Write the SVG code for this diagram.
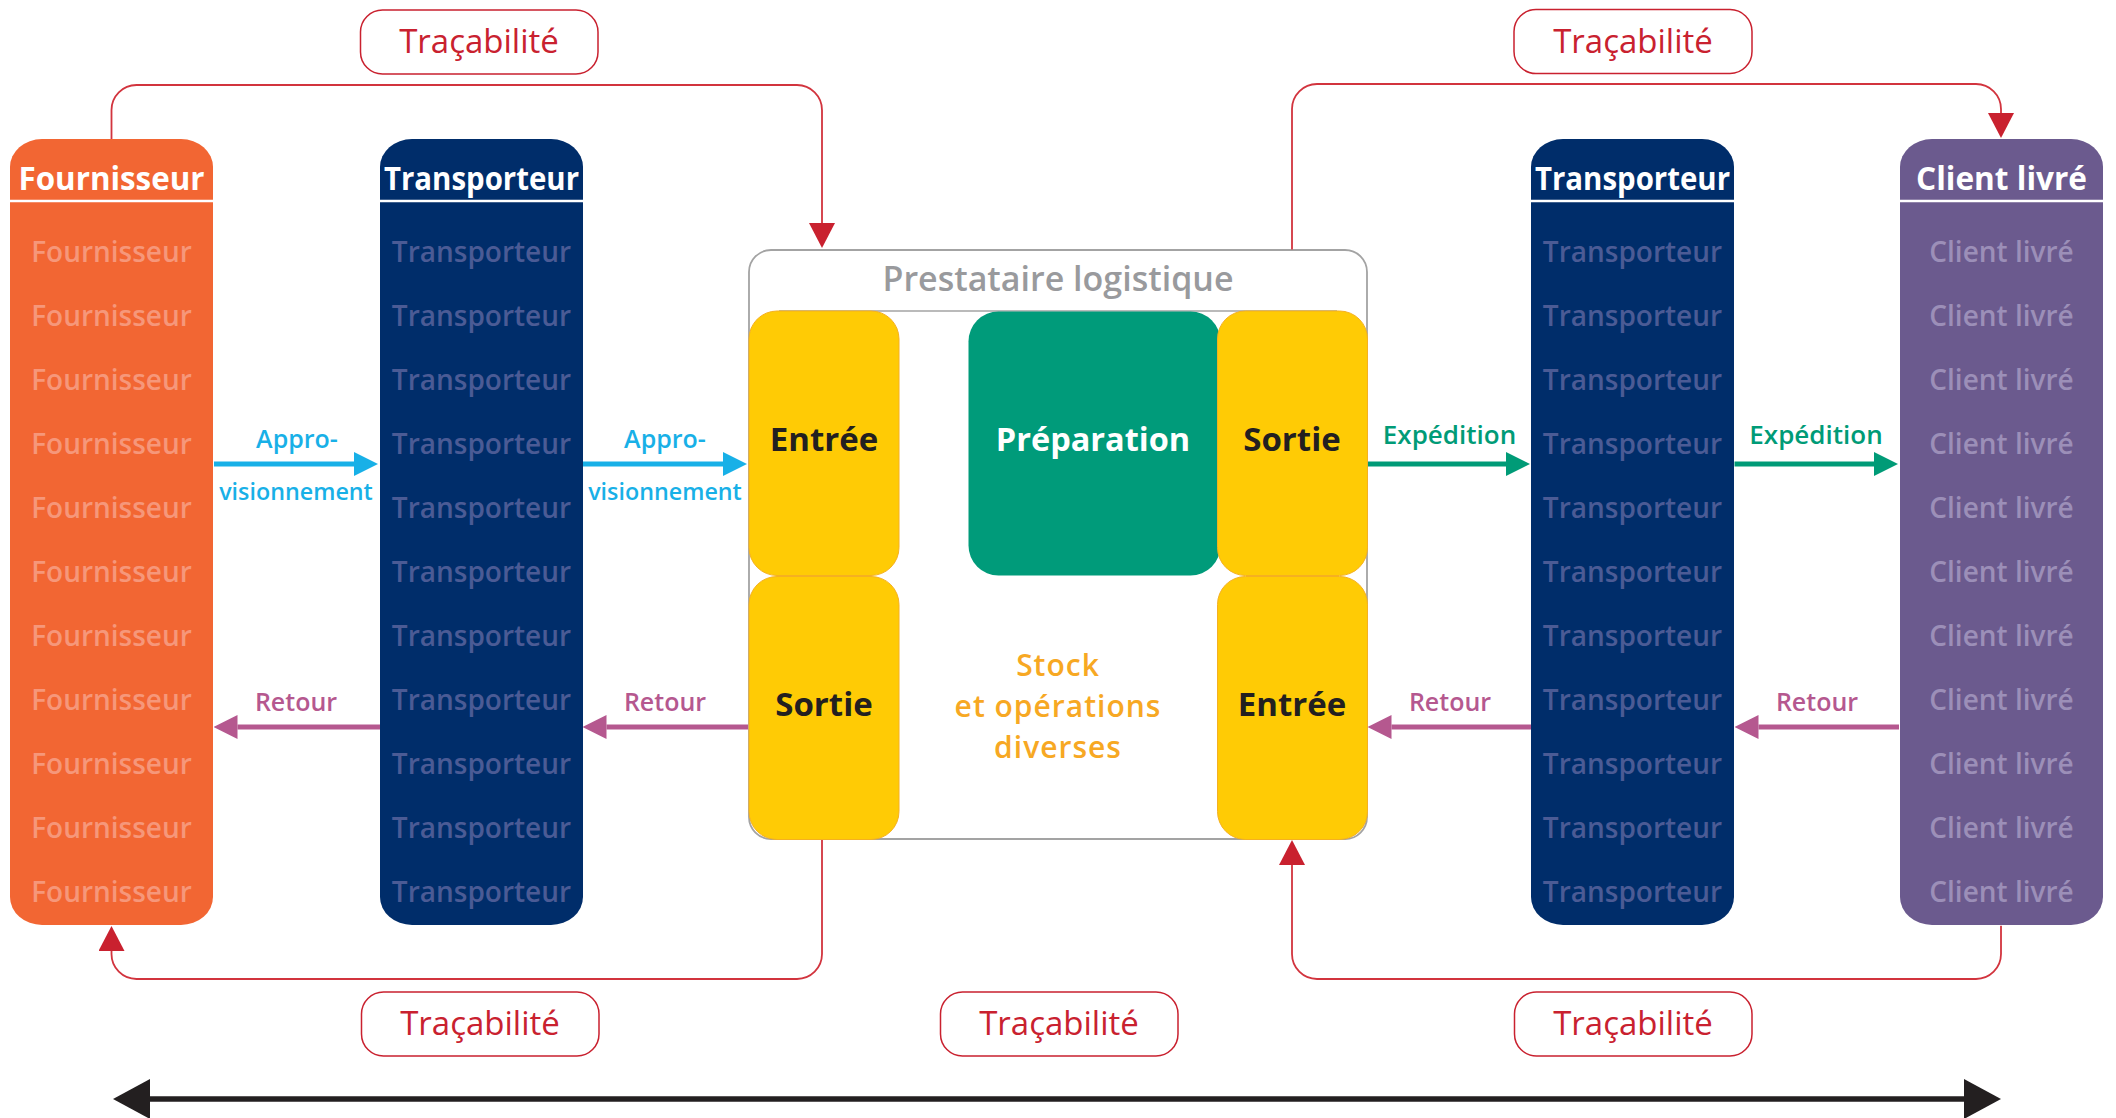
<svg xmlns="http://www.w3.org/2000/svg" width="2116" height="1118" viewBox="0 0 2116 1118">
<defs>
<style>
text{font-family:"Open Sans","Noto Sans","Liberation Sans",sans-serif;text-anchor:middle}
.hd{font-size:33px;font-weight:700;fill:#fff}
.sub{font-size:28px;font-weight:600}
.fsub{fill:#F6977A}
.tsub{fill:#4B5B95}
.csub{fill:#9C8FB8}
.sep{stroke:#fff;stroke-width:2.5}
.trb{fill:#fff;stroke:#C9212F;stroke-width:1.5}
.trt{font-size:33px;font-weight:400;fill:#C9212F}
.yel{fill:#FFCB05;stroke:#F5B021;stroke-width:1}
.blk{font-size:33px;font-weight:700;fill:#231F20}
.lbl{font-size:25px;font-weight:600}
.stk{font-size:30px;font-weight:600;fill:#F7A823;letter-spacing:1px}
.red{fill:none;stroke:#D2343E;stroke-width:1.8}
</style>
<marker id="mCyan" markerUnits="userSpaceOnUse" markerWidth="24" markerHeight="24" refX="0" refY="12" orient="auto"><path d="M0,0L24,12L0,24z" fill="#18B0E7"/></marker>
<marker id="mGreen" markerUnits="userSpaceOnUse" markerWidth="24" markerHeight="24" refX="0" refY="12" orient="auto"><path d="M0,0L24,12L0,24z" fill="#009B77"/></marker>
<marker id="mPink" markerUnits="userSpaceOnUse" markerWidth="24" markerHeight="24" refX="0" refY="12" orient="auto"><path d="M0,0L24,12L0,24z" fill="#B5588F"/></marker>
<marker id="mRed" markerUnits="userSpaceOnUse" markerWidth="25" markerHeight="26" refX="0" refY="13" orient="auto"><path d="M0,0L25,13L0,26z" fill="#C9212F"/></marker>
<marker id="mBlack" markerUnits="userSpaceOnUse" markerWidth="37" markerHeight="40" refX="0" refY="20" orient="auto-start-reverse"><path d="M0,0L37,20L0,40z" fill="#231F20"/></marker>
</defs>
<rect width="2116" height="1118" fill="#fff"/>

<g id="fournisseur">
<rect x="10" y="139" width="203" height="786" rx="32" ry="28" fill="#F26633"/>
<line class="sep" x1="10" y1="201" x2="213" y2="201"/>
<text class="hd" x="111.5" y="190" textLength="186" lengthAdjust="spacingAndGlyphs">Fournisseur</text>
<g class="sub fsub">
<text x="111.5" y="262">Fournisseur</text><text x="111.5" y="326">Fournisseur</text><text x="111.5" y="390">Fournisseur</text><text x="111.5" y="454">Fournisseur</text><text x="111.5" y="518">Fournisseur</text><text x="111.5" y="582">Fournisseur</text><text x="111.5" y="646">Fournisseur</text><text x="111.5" y="710">Fournisseur</text><text x="111.5" y="774">Fournisseur</text><text x="111.5" y="838">Fournisseur</text><text x="111.5" y="902">Fournisseur</text>
</g>
</g>

<g id="transporteur1">
<rect x="380" y="139" width="203" height="786" rx="32" ry="28" fill="#002D6A"/>
<line class="sep" x1="380" y1="201" x2="583" y2="201"/>
<text class="hd" x="481.5" y="190" textLength="195" lengthAdjust="spacingAndGlyphs">Transporteur</text>
<g class="sub tsub">
<text x="481.5" y="262">Transporteur</text><text x="481.5" y="326">Transporteur</text><text x="481.5" y="390">Transporteur</text><text x="481.5" y="454">Transporteur</text><text x="481.5" y="518">Transporteur</text><text x="481.5" y="582">Transporteur</text><text x="481.5" y="646">Transporteur</text><text x="481.5" y="710">Transporteur</text><text x="481.5" y="774">Transporteur</text><text x="481.5" y="838">Transporteur</text><text x="481.5" y="902">Transporteur</text>
</g>
</g>

<g id="transporteur2">
<rect x="1531" y="139" width="203" height="786" rx="32" ry="28" fill="#002D6A"/>
<line class="sep" x1="1531" y1="201" x2="1734" y2="201"/>
<text class="hd" x="1632.5" y="190" textLength="195" lengthAdjust="spacingAndGlyphs">Transporteur</text>
<g class="sub tsub">
<text x="1632.5" y="262">Transporteur</text><text x="1632.5" y="326">Transporteur</text><text x="1632.5" y="390">Transporteur</text><text x="1632.5" y="454">Transporteur</text><text x="1632.5" y="518">Transporteur</text><text x="1632.5" y="582">Transporteur</text><text x="1632.5" y="646">Transporteur</text><text x="1632.5" y="710">Transporteur</text><text x="1632.5" y="774">Transporteur</text><text x="1632.5" y="838">Transporteur</text><text x="1632.5" y="902">Transporteur</text>
</g>
</g>

<g id="client">
<rect x="1900" y="139" width="203" height="786" rx="32" ry="28" fill="#6B5A8E"/>
<line class="sep" x1="1900" y1="201" x2="2103" y2="201"/>
<text class="hd" x="2001.5" y="190" textLength="171" lengthAdjust="spacingAndGlyphs">Client livré</text>
<g class="sub csub">
<text x="2001.5" y="262">Client livré</text><text x="2001.5" y="326">Client livré</text><text x="2001.5" y="390">Client livré</text><text x="2001.5" y="454">Client livré</text><text x="2001.5" y="518">Client livré</text><text x="2001.5" y="582">Client livré</text><text x="2001.5" y="646">Client livré</text><text x="2001.5" y="710">Client livré</text><text x="2001.5" y="774">Client livré</text><text x="2001.5" y="838">Client livré</text><text x="2001.5" y="902">Client livré</text>
</g>
</g>

<g id="prestataire">
<rect x="749" y="250" width="618" height="589" rx="22" fill="#fff" stroke="#A3A3A3" stroke-width="1.8"/>
<line x1="779" y1="311" x2="1337" y2="311" stroke="#A3A3A3" stroke-width="1.5"/>
<text x="1058" y="291" style="font-size:34px;font-weight:600;fill:#999A9D">Prestataire logistique</text>
</g>

<g id="entree-haut">
<rect class="yel" x="749" y="311" width="150" height="264.5" rx="28"/>
<text class="blk" x="824" y="451">Entrée</text>
</g>
<g id="sortie-bas">
<rect class="yel" x="749" y="576.5" width="150" height="263" rx="28"/>
<text class="blk" x="824" y="716">Sortie</text>
</g>
<g id="preparation">
<rect x="968.5" y="311.5" width="252" height="264" rx="30" fill="#009B7A"/>
<text x="1093" y="451" style="font-size:32.5px;font-weight:700;fill:#fff">Préparation</text>
</g>
<g id="sortie-haut">
<rect class="yel" x="1217.5" y="311" width="150" height="264.5" rx="28"/>
<text class="blk" x="1292" y="451">Sortie</text>
</g>
<g id="entree-bas">
<rect class="yel" x="1217.5" y="576.5" width="150" height="263" rx="28"/>
<text class="blk" x="1292" y="716">Entrée</text>
</g>
<g id="stock">
<text class="stk" x="1058" y="676">Stock</text>
<text class="stk" x="1058" y="717">et opérations</text>
<text class="stk" x="1058" y="758">diverses</text>
</g>

<g id="connectors">
<path d="M214,464H354" stroke="#18B0E7" stroke-width="5" marker-end="url(#mCyan)"/>
<path d="M583,464H723" stroke="#18B0E7" stroke-width="5" marker-end="url(#mCyan)"/>
<path d="M1368,464H1506" stroke="#009B77" stroke-width="5" marker-end="url(#mGreen)"/>
<path d="M1734.5,464H1874" stroke="#009B77" stroke-width="5" marker-end="url(#mGreen)"/>
<path d="M380,727H237.5" stroke="#B5588F" stroke-width="5" marker-end="url(#mPink)"/>
<path d="M748,727H606.5" stroke="#B5588F" stroke-width="5" marker-end="url(#mPink)"/>
<path d="M1531,727H1391.5" stroke="#B5588F" stroke-width="5" marker-end="url(#mPink)"/>
<path d="M1899,727H1758.5" stroke="#B5588F" stroke-width="5" marker-end="url(#mPink)"/>
<path class="red" d="M111.5,139V110A25,25 0 0 1 136.5,85H797A25,25 0 0 1 822,110V223" marker-end="url(#mRed)"/>
<path class="red" d="M1292,249.6V109A25,25 0 0 1 1317,84H1976A25,25 0 0 1 2001,109V113" marker-end="url(#mRed)"/>
<path class="red" d="M822,840V954A25,25 0 0 1 797,979H136.5A25,25 0 0 1 111.5,954V951" marker-end="url(#mRed)"/>
<path class="red" d="M2001,925.7V954A25,25 0 0 1 1976,979H1317A25,25 0 0 1 1292,954V865" marker-end="url(#mRed)"/>
<path d="M150,1099H1964" stroke="#231F20" stroke-width="5.5" marker-start="url(#mBlack)" marker-end="url(#mBlack)"/>
<g class="lbl" style="fill:#18B0E7">
<text x="297" y="448">Appro-</text><text x="296" y="500" style="font-size:23.3px">visionnement</text>
<text x="665" y="448">Appro-</text><text x="665" y="500" style="font-size:23.3px">visionnement</text>
</g>
<g class="lbl" style="fill:#009B77;font-size:26px">
<text x="1449.5" y="444">Expédition</text><text x="1816" y="444">Expédition</text>
</g>
<g class="lbl" style="fill:#B5588F">
<text x="296" y="711">Retour</text><text x="665" y="711">Retour</text><text x="1450" y="711">Retour</text><text x="1817" y="711">Retour</text>
</g>
</g>

<g id="trace1"><rect class="trb" x="360.5" y="10" width="237.5" height="64" rx="22"/><text class="trt" x="479" y="53">Traçabilité</text></g>
<g id="trace2"><rect class="trb" x="1514" y="9.5" width="238" height="64" rx="22"/><text class="trt" x="1633" y="52.5">Traçabilité</text></g>
<g id="trace3"><rect class="trb" x="361.5" y="992" width="237.5" height="64" rx="22"/><text class="trt" x="480" y="1035">Traçabilité</text></g>
<g id="trace4"><rect class="trb" x="940.5" y="992" width="237.5" height="64" rx="22"/><text class="trt" x="1059" y="1035">Traçabilité</text></g>
<g id="trace5"><rect class="trb" x="1514.5" y="992" width="237.5" height="64" rx="22"/><text class="trt" x="1633" y="1035">Traçabilité</text></g>
</svg>
